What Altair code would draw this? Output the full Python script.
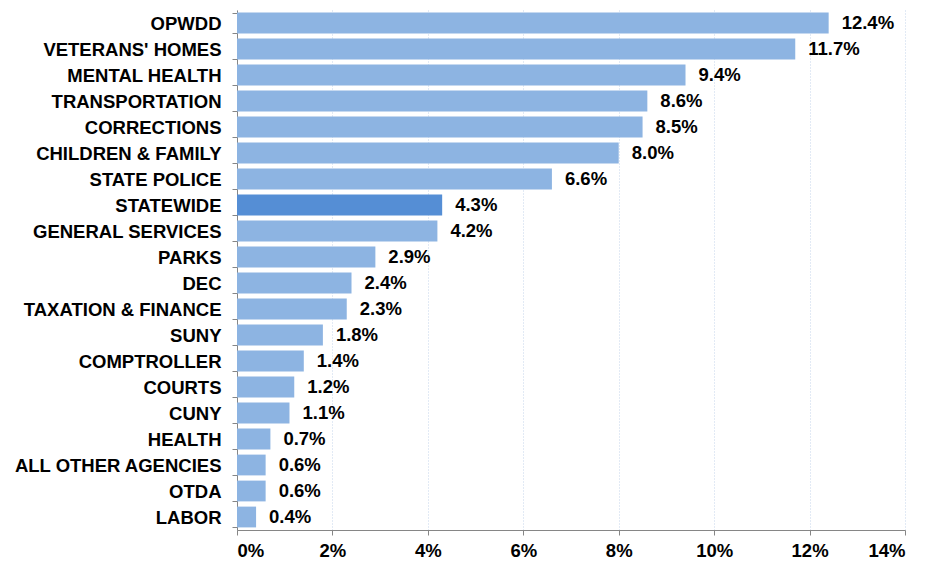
import altair as alt
import pandas as pd

agencies = ["OPWDD", "VETERANS' HOMES", "MENTAL HEALTH", "TRANSPORTATION", "CORRECTIONS",
            "CHILDREN & FAMILY", "STATE POLICE", "STATEWIDE", "GENERAL SERVICES", "PARKS",
            "DEC", "TAXATION & FINANCE", "SUNY", "COMPTROLLER", "COURTS", "CUNY", "HEALTH",
            "ALL OTHER AGENCIES", "OTDA", "LABOR"]
values = [12.4, 11.7, 9.4, 8.6, 8.5, 8.0, 6.6, 4.3, 4.2, 2.9,
          2.4, 2.3, 1.8, 1.4, 1.2, 1.1, 0.7, 0.6, 0.6, 0.4]
highlight = ["STATEWIDE"]

df = pd.DataFrame({
    "agency": agencies,
    "value": [v / 100 for v in values],
    "label": [f"{v:.1f}%" for v in values],
    "hl": ["yes" if a in highlight else "no" for a in agencies],
})

FONT = "Liberation Sans"
FS = 18.5

base = alt.Chart(df).encode(
    y=alt.Y("agency:N", sort=agencies, title=None,
            scale=alt.Scale(paddingInner=0.2, paddingOuter=0.1),
            axis=alt.Axis(labelFont=FONT, labelFontSize=FS, labelFontWeight="bold",
                          labelColor="black", labelPadding=11, tickSize=5,
                          tickBand="extent", tickColor="#868686", domainColor="#868686",
                          grid=False, labelLimit=400)),
)

bars = base.mark_bar().encode(
    x=alt.X("value:Q", title=None,
            scale=alt.Scale(domain=[0, 0.14], nice=False),
            axis=alt.Axis(format=".0%", values=[0, 0.02, 0.04, 0.06, 0.08, 0.10, 0.12, 0.14],
                          labelFont=FONT, labelFontSize=FS, labelFontWeight="bold",
                          labelColor="black", labelPadding=6, tickSize=5,
                          tickColor="#868686", domainColor="#868686",
                          grid=True, gridColor="#C5D5EA", gridDash=[1, 2], gridWidth=1)),
    color=alt.Color("hl:N", scale=alt.Scale(domain=["no", "yes"], range=["#8DB4E2", "#558ED5"]),
                    legend=None),
)

text = base.mark_text(align="left", baseline="middle", dx=13, font=FONT, fontSize=FS,
                      fontWeight="bold", color="black").encode(
    x="value:Q",
    text="label:N",
)

chart = alt.layer(bars, text).properties(
    width=668, height=520,
    autosize=alt.AutoSizeParams(type="none"),
    padding={"left": 229, "top": 2, "right": 18, "bottom": 32},
).configure_view(stroke=None)

chart.save("out.html", embed_options={"renderer": "svg", "actions": False})
